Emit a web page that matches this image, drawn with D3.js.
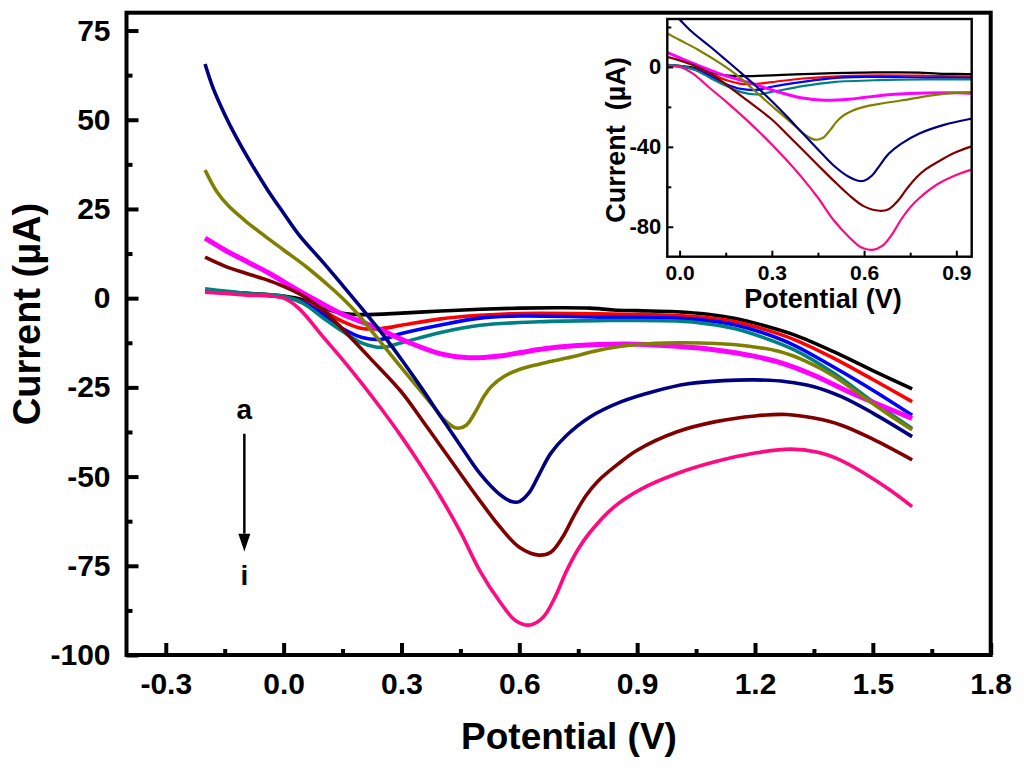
<!DOCTYPE html>
<html>
<head>
<meta charset="utf-8">
<script src="https://cdn.jsdelivr.net/npm/d3@7"></script>
<style>
  body { margin: 0; background: #fff; }
  svg { display: block; }
  text { font-family: "Liberation Sans", Arial, sans-serif; font-weight: bold; fill: #000; }
</style>
</head>
<body>
<div id="chart"></div>
<script>
// Curves a..i: [potential (V), current (uA)]
var curveA = [[-0.2, 2.0], [-0.1, 1.4], [0.0, 0.6], [0.05, -0.5], [0.1, -2.8], [0.15, -4.2], [0.2, -4.6],
  [0.3, -4.2], [0.4, -3.6], [0.5, -3.1], [0.6, -2.8], [0.7, -2.7], [0.78, -2.8], [0.84, -3.3], [0.9, -3.5],
  [1.0, -3.8], [1.08, -4.5], [1.15, -5.7], [1.22, -7.6], [1.3, -10.3], [1.4, -15.0], [1.5, -20.3], [1.6, -25.4]];
var curveB = [[-0.2, 2.0], [-0.1, 1.2], [0.0, 0.3], [0.05, -1.0], [0.1, -3.5], [0.15, -6.5], [0.2, -8.5],
  [0.25, -8.5], [0.3, -7.6], [0.4, -5.8], [0.5, -4.8], [0.6, -4.3], [0.8, -4.4], [1.0, -4.9], [1.08, -5.5],
  [1.15, -6.6], [1.22, -8.6], [1.3, -11.6], [1.4, -16.8], [1.5, -22.8], [1.6, -29.0]];
var curveC = [[-0.2, 2.0], [-0.1, 1.2], [0.0, 0.3], [0.05, -1.2], [0.1, -4.5], [0.15, -8.5], [0.2, -11.0],
  [0.25, -11.5], [0.3, -9.9], [0.4, -7.5], [0.5, -5.6], [0.6, -5.0], [0.8, -5.3], [1.0, -5.6], [1.08, -6.3],
  [1.15, -7.5], [1.22, -9.7], [1.3, -13.2], [1.4, -19.3], [1.5, -25.8], [1.6, -32.8]];
var curveD = [[-0.2, 2.6], [-0.1, 1.4], [0.0, 0.5], [0.05, -1.5], [0.1, -5.5], [0.15, -9.3], [0.2, -12.6],
  [0.25, -13.8], [0.3, -12.5], [0.4, -9.6], [0.5, -7.6], [0.65, -6.6], [0.8, -6.3], [1.0, -6.4], [1.08, -7.2],
  [1.15, -8.6], [1.22, -11.0], [1.3, -14.5], [1.4, -21.0], [1.5, -29.0], [1.6, -36.5]];
var curveE = [[-0.2, 16.8], [-0.15, 13.5], [-0.1, 10.6], [-0.04, 7.2], [0.0, 4.6], [0.06, 0.8], [0.14, -4.0],
  [0.23, -8.0], [0.31, -12.0], [0.4, -15.6], [0.47, -16.7], [0.55, -16.2], [0.6, -15.3], [0.65, -14.4],
  [0.7, -13.7], [0.8, -13.0], [0.9, -12.9], [1.0, -13.5], [1.1, -14.5], [1.2, -16.3], [1.28, -18.6],
  [1.35, -21.6], [1.45, -26.8], [1.6, -33.7]];
var curveF = [[-0.2, 35.9], [-0.17, 29.8], [-0.14, 25.8], [-0.1, 21.9], [-0.05, 17.6], [0.0, 13.5],
  [0.06, 8.6], [0.13, 2.0], [0.18, -3.4], [0.23, -10.0], [0.28, -16.8], [0.33, -23.5], [0.38, -30.2],
  [0.41, -34.2], [0.44, -36.4], [0.465, -35.6], [0.49, -31.5], [0.51, -27.5], [0.53, -24.6], [0.56, -22.0],
  [0.6, -20.0], [0.65, -18.5], [0.72, -16.8], [0.82, -14.2], [0.9, -13.0], [1.0, -12.5], [1.1, -12.7],
  [1.18, -13.4], [1.26, -14.9], [1.33, -17.7], [1.4, -21.8], [1.47, -27.2], [1.54, -32.6], [1.6, -36.9]];
var curveG = [[-0.2, 65.6], [-0.18, 59.0], [-0.15, 51.5], [-0.12, 45.0], [-0.08, 37.3], [-0.04, 30.2],
  [0.0, 23.8], [0.04, 17.6], [0.1, 10.1], [0.15, 3.6], [0.2, -3.0], [0.25, -9.8], [0.3, -17.2], [0.35, -25.0],
  [0.4, -33.2], [0.45, -41.3], [0.5, -49.2], [0.55, -55.0], [0.58, -57.0], [0.6, -57.0], [0.625, -54.5],
  [0.65, -49.5], [0.68, -43.5], [0.72, -38.5], [0.78, -33.3], [0.86, -29.0], [0.94, -26.2], [1.03, -24.0],
  [1.12, -23.1], [1.2, -22.9], [1.28, -23.4], [1.35, -24.8], [1.42, -27.6], [1.5, -32.2], [1.6, -38.8]];
var curveH = [[-0.2, 11.5], [-0.15, 9.0], [-0.1, 7.1], [-0.05, 5.4], [0.0, 3.3], [0.05, 0.6], [0.1, -3.3],
  [0.16, -9.8], [0.22, -16.8], [0.3, -26.3], [0.35, -33.8], [0.4, -41.5], [0.45, -49.2], [0.5, -56.8],
  [0.55, -64.0], [0.6, -69.8], [0.65, -72.0], [0.68, -71.2], [0.71, -67.0], [0.74, -60.8], [0.77, -55.3],
  [0.8, -51.3], [0.85, -46.6], [0.9, -42.6], [1.0, -37.5], [1.1, -34.6], [1.2, -33.0], [1.28, -32.6],
  [1.35, -33.6], [1.42, -35.6], [1.5, -39.5], [1.6, -45.3]];
var curveI = [[-0.2, 1.7], [-0.1, 0.9], [0.0, 0.0], [0.04, -3.0], [0.1, -10.8], [0.15, -17.2], [0.2, -24.0],
  [0.25, -31.2], [0.3, -38.8], [0.35, -47.0], [0.4, -55.8], [0.45, -65.5], [0.5, -76.5], [0.55, -85.0],
  [0.59, -90.3], [0.627, -91.6], [0.66, -89.5], [0.69, -84.0], [0.72, -76.5], [0.75, -70.3], [0.78, -65.6],
  [0.84, -58.6], [0.91, -53.5], [1.0, -49.2], [1.1, -45.8], [1.2, -43.4], [1.29, -42.3], [1.36, -43.2],
  [1.42, -45.5], [1.48, -49.2], [1.54, -53.5], [1.6, -58.4]];

var curveNames = ["a", "b", "c", "d", "e", "f", "g", "h", "i"];
var allCurves = [curveA, curveB, curveC, curveD, curveE, curveF, curveG, curveH, curveI];
var curveColors = ["#000000", "#ff0000", "#0000ff", "#008080", "#ff00ff", "#808000", "#000080", "#800000", "#ff0a80"];

// ticks
var xMajor = [-0.3, 0.0, 0.3, 0.6, 0.9, 1.2, 1.5, 1.8];
var xMinor = [-0.15, 0.15, 0.45, 0.75, 1.05, 1.35, 1.65];
var yMajor = [-100, -75, -50, -25, 0, 25, 50, 75];
var yMinor = [-87.5, -62.5, -37.5, -12.5, 12.5, 37.5, 62.5];
var insetXMajor = [0.0, 0.3, 0.6, 0.9];
var insetXMinor = [0.15, 0.45, 0.75];
var insetYMajor = [-80, -40, 0];
var insetYMinor = [-60, -20, 20];

var width = 1024, height = 769;

// plain hyphen minus, like the original
var fmt1 = d => d3.format(".1f")(d).replace("\u2212", "-");
var fmt0 = d => String(d);

var svg = d3.select("#chart").append("svg")
  .attr("width", width)
  .attr("height", height);

// main panel
var x = d3.scaleLinear().domain([-0.4, 1.8]).range([126.5, 990.7]);
var y = d3.scaleLinear().domain([-100, 80]).range([655, 12.7]);

var line = d3.line()
  .x(d => x(d[0]))
  .y(d => y(d[1]))
  .curve(d3.curveCatmullRom.alpha(0.5));

svg.append("g")
  .selectAll("path")
  .data(allCurves)
  .enter()
  .append("path")
  .attr("d", line)
  .attr("fill", "none")
  .attr("stroke", (d, i) => curveColors[i])
  .attr("stroke-width", (d, i) => curveNames[i] === "e" ? 5 : 3.6)
  .attr("stroke-linejoin", "round");

function styleAxis(g, fontSize) {
  g.select(".domain").remove();
  g.selectAll("text").style("font-size", fontSize + "px");
}

svg.append("g")
  .attr("transform", `translate(0, ${y.range()[0]})`)
  .call(d3.axisBottom(x).tickValues(xMajor).tickFormat(fmt1).tickSizeInner(-12).tickSizeOuter(0).tickPadding(18))
  .call(g => styleAxis(g, 30))
  .call(g => g.selectAll("line").attr("stroke-width", 4));

svg.append("g")
  .attr("transform", `translate(0, ${y.range()[0]})`)
  .call(d3.axisBottom(x).tickValues(xMinor).tickFormat("").tickSizeInner(-6).tickSizeOuter(0))
  .call(g => styleAxis(g, 30))
  .call(g => g.selectAll("line").attr("stroke-width", 4));

svg.append("g")
  .attr("transform", `translate(${x.range()[0]}, 0)`)
  .call(d3.axisLeft(y).tickValues(yMajor).tickFormat(fmt0).tickSizeInner(-12).tickSizeOuter(0).tickPadding(16))
  .call(g => styleAxis(g, 30))
  .call(g => g.selectAll("line").attr("stroke-width", 4));

svg.append("g")
  .attr("transform", `translate(${x.range()[0]}, 0)`)
  .call(d3.axisLeft(y).tickValues(yMinor).tickFormat("").tickSizeInner(-6).tickSizeOuter(0))
  .call(g => styleAxis(g, 30))
  .call(g => g.selectAll("line").attr("stroke-width", 4));

// frame
svg.append("rect")
  .attr("x", x.range()[0])
  .attr("y", y.range()[1])
  .attr("width", x.range()[1] - x.range()[0])
  .attr("height", y.range()[0] - y.range()[1])
  .attr("fill", "none")
  .attr("stroke", "#000")
  .attr("stroke-width", 4);

svg.append("text")
  .attr("x", 569)
  .attr("y", 749)
  .attr("text-anchor", "middle")
  .style("font-size", "37px")
  .text("Potential (V)");

svg.append("text")
  .attr("transform", "translate(40, 314) rotate(-90)")
  .attr("text-anchor", "middle")
  .style("font-size", "38px")
  .text("Current (\u00b5A)");

// a -> i arrow
var arrowX = x(-0.1);
svg.append("text")
  .attr("x", arrowX)
  .attr("y", y(-34))
  .attr("text-anchor", "middle")
  .style("font-size", "28px")
  .text("a");
svg.append("line")
  .attr("x1", arrowX).attr("x2", arrowX)
  .attr("y1", y(-38)).attr("y2", y(-66))
  .attr("stroke", "#000")
  .attr("stroke-width", 2.5);
svg.append("path")
  .attr("d", `M${arrowX - 6},${y(-66)} L${arrowX + 6},${y(-66)} L${arrowX},${y(-71)} Z`)
  .attr("fill", "#000");
svg.append("text")
  .attr("x", arrowX)
  .attr("y", y(-80.3))
  .attr("text-anchor", "middle")
  .style("font-size", "28px")
  .text("i");

// inset
var xi = d3.scaleLinear().domain([-0.04, 0.95]).range([667.3, 971.7]);
var yi = d3.scaleLinear().domain([-95, 24]).range([256.7, 19]);

svg.append("rect")
  .attr("x", xi.range()[0])
  .attr("y", yi.range()[1])
  .attr("width", xi.range()[1] - xi.range()[0])
  .attr("height", yi.range()[0] - yi.range()[1])
  .attr("fill", "#fff");

svg.append("clipPath")
  .attr("id", "insetClip")
  .append("rect")
  .attr("x", xi.range()[0])
  .attr("y", yi.range()[1])
  .attr("width", xi.range()[1] - xi.range()[0])
  .attr("height", yi.range()[0] - yi.range()[1]);

var insetLine = d3.line()
  .x(d => xi(d[0]))
  .y(d => yi(d[1]))
  .curve(d3.curveCatmullRom.alpha(0.5));

svg.append("g")
  .attr("clip-path", "url(#insetClip)")
  .selectAll("path")
  .data(allCurves)
  .enter()
  .append("path")
  .attr("d", insetLine)
  .attr("fill", "none")
  .attr("stroke", (d, i) => curveColors[i])
  .attr("stroke-width", (d, i) => curveNames[i] === "e" ? 3 : 2.2);

svg.append("g")
  .attr("transform", `translate(0, ${yi.range()[0]})`)
  .call(d3.axisBottom(xi).tickValues(insetXMajor).tickFormat(fmt1).tickSizeInner(-6).tickSizeOuter(0).tickPadding(8))
  .call(g => styleAxis(g, 21))
  .call(g => g.selectAll("line").attr("stroke-width", 2));

svg.append("g")
  .attr("transform", `translate(0, ${yi.range()[0]})`)
  .call(d3.axisBottom(xi).tickValues(insetXMinor).tickFormat("").tickSizeInner(-4).tickSizeOuter(0))
  .call(g => styleAxis(g, 21))
  .call(g => g.selectAll("line").attr("stroke-width", 2));

svg.append("g")
  .attr("transform", `translate(${xi.range()[0]}, 0)`)
  .call(d3.axisLeft(yi).tickValues(insetYMajor).tickFormat(fmt0).tickSizeInner(-6).tickSizeOuter(0).tickPadding(6))
  .call(g => styleAxis(g, 22))
  .call(g => g.selectAll("line").attr("stroke-width", 2));

svg.append("g")
  .attr("transform", `translate(${xi.range()[0]}, 0)`)
  .call(d3.axisLeft(yi).tickValues(insetYMinor).tickFormat("").tickSizeInner(-4).tickSizeOuter(0))
  .call(g => styleAxis(g, 22))
  .call(g => g.selectAll("line").attr("stroke-width", 2));

svg.append("rect")
  .attr("x", xi.range()[0])
  .attr("y", yi.range()[1])
  .attr("width", xi.range()[1] - xi.range()[0])
  .attr("height", yi.range()[0] - yi.range()[1])
  .attr("fill", "none")
  .attr("stroke", "#000")
  .attr("stroke-width", 2.4);

svg.append("text")
  .attr("x", 823)
  .attr("y", 308)
  .attr("text-anchor", "middle")
  .style("font-size", "27px")
  .text("Potential (V)");

svg.append("text")
  .attr("transform", "translate(625, 140) rotate(-90)")
  .attr("text-anchor", "middle")
  .style("font-size", "27px")
  .style("white-space", "pre")
  .text("Current  (\u00b5A)");
</script>
</body>
</html>
